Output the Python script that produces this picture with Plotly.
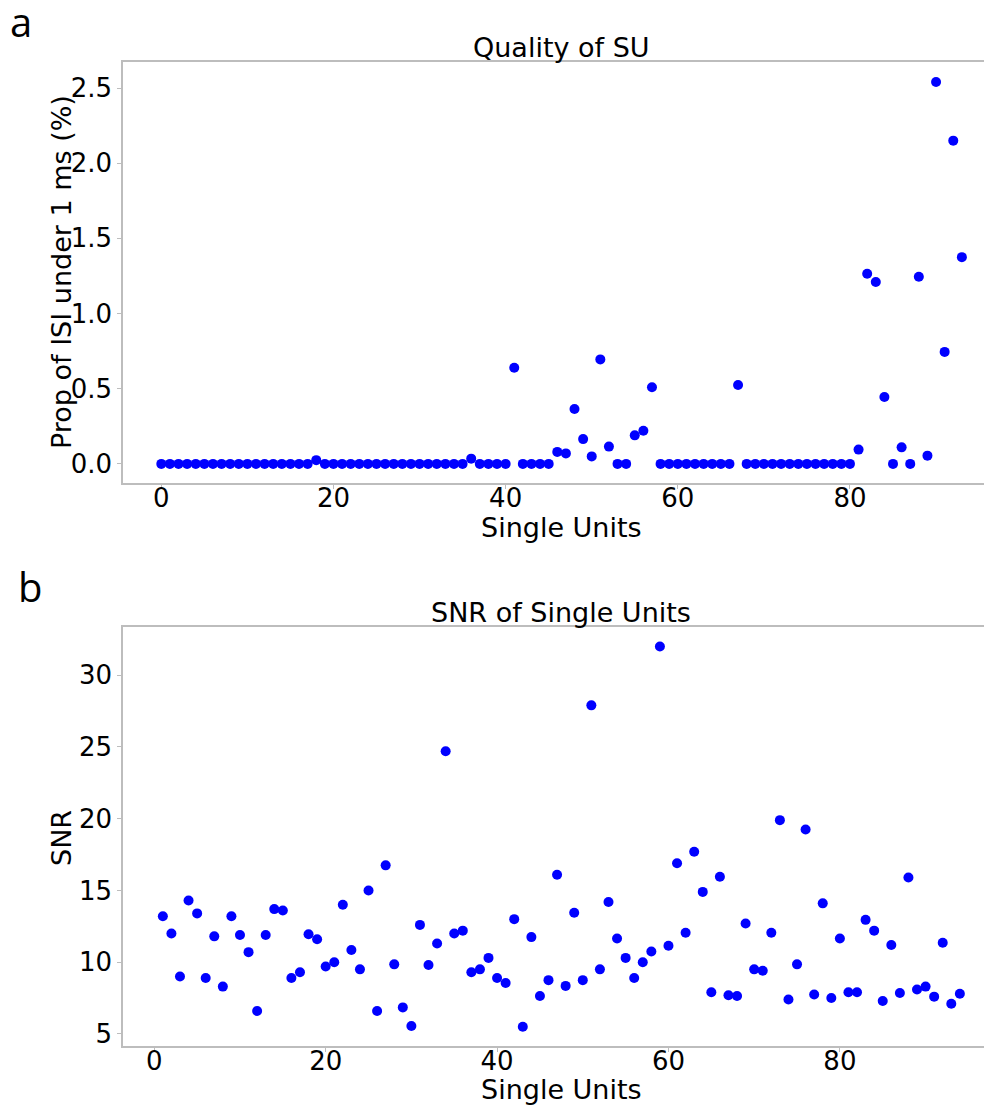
import plotly.graph_objects as go

# Proportion of ISI under 1 ms (%) for units 0..93
isi_units = list(range(94))
isi_prop = ([0.0] * 18 + [0.025] + [0.0] * 17 + [0.035] + [0.0] * 4 + [0.64]
            + [0.0] * 4 + [0.08, 0.07, 0.365, 0.165, 0.05, 0.695, 0.115, 0.0, 0.0,
                           0.19, 0.22, 0.51]
            + [0.0] * 9 + [0.525] + [0.0] * 13
            + [0.095, 1.265, 1.21, 0.445, 0.0, 0.11, 0.0, 1.245, 0.055,
               2.54, 0.745, 2.15, 1.375])

# SNR for units 1..94
snr_units = list(range(1, 95))
snr = [13.2, 12.0, 9.0, 14.3, 13.4, 8.9, 11.8, 8.3, 13.2, 11.9,
       10.7, 6.6, 11.9, 13.7, 13.6, 8.9, 9.3, 11.95, 11.6, 9.7,
       10.0, 14.0, 10.85, 9.5, 15.0, 6.6, 16.75, 9.85, 6.85, 5.55,
       12.6, 9.8, 11.3, 24.7, 12.0, 12.2, 9.3, 9.5, 10.3, 8.9,
       8.55, 13.0, 5.5, 11.75, 7.65, 8.75, 16.1, 8.35, 13.45, 8.75,
       27.9, 9.5, 14.2, 11.65, 10.3, 8.9, 10.0, 10.75, 32.0, 11.15,
       16.9, 12.05, 17.7, 14.9, 7.9, 15.95, 7.7, 7.65, 12.7, 9.5,
       9.4, 12.05, 19.9, 7.4, 9.85, 19.25, 7.75, 14.1, 7.5, 11.65,
       7.9, 7.9, 12.95, 12.2, 7.3, 11.2, 7.85, 15.9, 8.1, 8.3,
       7.6, 11.35, 7.1, 7.8]

isi_ticks = [0.0, 0.5, 1.0, 1.5, 2.0, 2.5]
snr_ticks = [5, 10, 15, 20, 25, 30]
unit_ticks = [0, 20, 40, 60, 80]

# the page body adds an 8px offset, so the figure covers page pixels 8..992
OFF = 8
W, H = 992 - OFF, 1110 - OFF
L = 123 - OFF
font_main = "DejaVu Sans"
grey = "#bdbdbd"


def px(x):
    # page pixel -> paper fraction of the plot area
    return (x - OFF - L) / (W - L)


def py(y):
    return 1 - (y - OFF) / H


axis_common = dict(
    showline=True, linecolor=grey, linewidth=1.5,
    ticks="outside", ticklen=4, tickcolor=grey, tickwidth=1,
    showgrid=False, zeroline=False,
    tickfont=dict(family=font_main, size=26, color="black"),
)

fig = go.Figure()
fig.add_trace(go.Scatter(x=isi_units, y=isi_prop, mode="markers",
                         marker=dict(color="#0000ff", size=10),
                         xaxis="x", yaxis="y", showlegend=False))
fig.add_trace(go.Scatter(x=snr_units, y=snr, mode="markers",
                         marker=dict(color="#0000ff", size=10),
                         xaxis="x2", yaxis="y2", showlegend=False))

fig.update_layout(
    width=W, height=H,
    margin=dict(l=L, r=0, t=0, b=0, autoexpand=False),
    paper_bgcolor="white", plot_bgcolor="white",
    xaxis=dict(axis_common, domain=[0, 1], range=[-4.45, 96.5], mirror=True,
               tickvals=unit_ticks, ticklabelstandoff=-13, anchor="y"),
    yaxis=dict(axis_common, domain=[py(483), py(62)], range=[-0.127, 2.673],
               tickvals=isi_ticks, tickformat=".1f", anchor="x"),
    xaxis2=dict(axis_common, domain=[0, 1], range=[-3.65, 97.75], mirror=True,
                tickvals=unit_ticks, ticklabelstandoff=-13, anchor="y2"),
    yaxis2=dict(axis_common, domain=[py(1046), py(627)], range=[4.16, 33.36],
                tickvals=snr_ticks, anchor="x2"),
)

texts = [
    ("Quality of SU", 561, 47, 0, font_main, 27),
    ("Single Units", 561, 527, 0, font_main, 27),
    ("Prop of ISI under 1 ms (%)", 61, 272, -90, font_main, 27),
    ("SNR of Single Units", 561, 612, 0, font_main, 27),
    ("Single Units", 561, 1089, 0, font_main, 27),
    ("SNR", 61, 838, -90, font_main, 27),
    ("a", 21, 22, 0, "Open Sans", 40),
    ("b", 30, 586, 0, "Open Sans", 40),
]
for t, x, y, ang, fam, sz in texts:
    fig.add_annotation(text=t, x=px(x), y=py(y), xref="paper", yref="paper",
                       xanchor="center", yanchor="middle", textangle=ang,
                       showarrow=False, font=dict(family=fam, size=sz, color="black"))

fig.write_html("out.html")
